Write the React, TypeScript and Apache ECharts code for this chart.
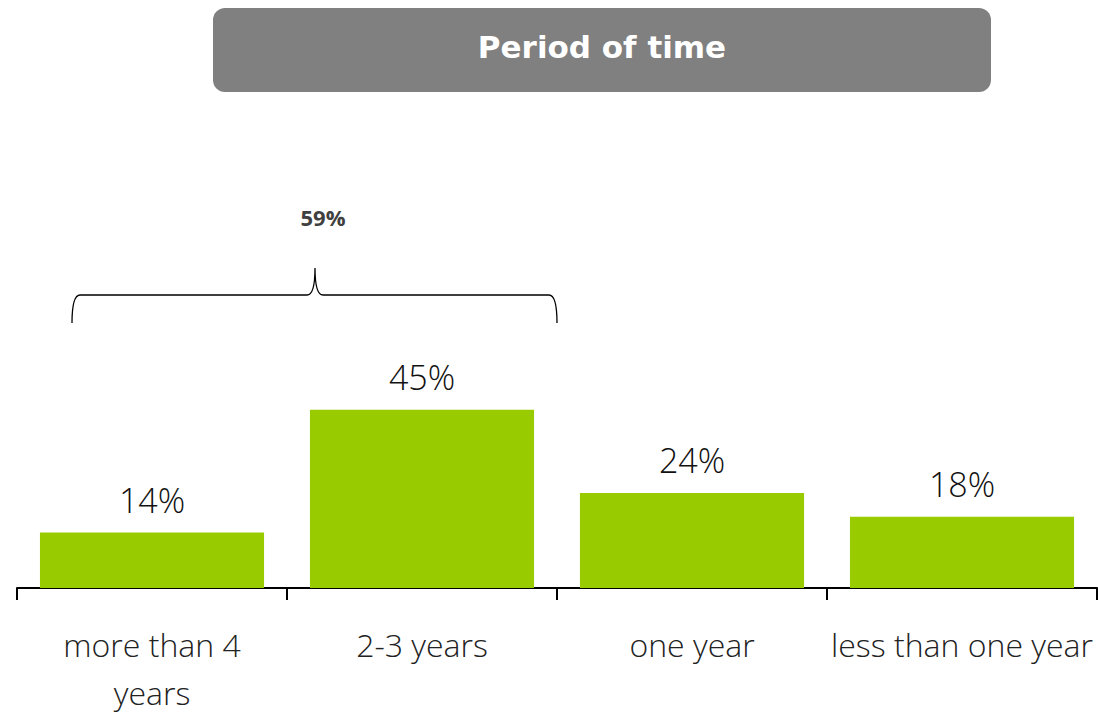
import React, { useEffect, useRef } from "react";
import * as echarts from "echarts";

const categories = ["more than 4\nyears", "2-3 years", "one year", "less than one year"];
const values = [14, 45, 24, 18];
const titleText = "Period of time";
const braceLabel = "59%";

echarts.graphic.registerShape(
  "brace",
  echarts.graphic.extendPath(
    "M72,323 Q72,295 80,295 L307,295 Q315,295 315,268 Q315,295 323,295 L549,295 Q557,295 557,323",
    {}
  )
);

export default function App() {
  const ref = useRef<HTMLDivElement>(null);
  useEffect(() => {
    if (!ref.current) return;
    const chart = echarts.init(ref.current, undefined, { renderer: "svg" });
    chart.setOption({
      animation: false,
      backgroundColor: "#ffffff",
      grid: { left: 17, right: 1, top: 192, bottom: 126, containLabel: false, outerBoundsMode: "none" },
      xAxis: {
        type: "category",
        data: categories,
        axisLine: { lineStyle: { color: "#000", width: 2 } },
        axisTick: { show: true, length: 12, lineStyle: { color: "#000", width: 2 } },
        axisLabel: {
          interval: 0,
          margin: 32,
          fontSize: 32,
          fontFamily: "Open Sans",
          fontWeight: 300,
          color: "#222",
          lineHeight: 48,
        },
      },
      yAxis: {
        type: "value",
        min: 0,
        max: 100,
        show: false,
        splitLine: { show: false },
      },
      series: [
        {
          type: "bar",
          data: values,
          barCategoryGap: "17%",
          itemStyle: { color: "#99cc00" },
          label: {
            show: true,
            position: "top",
            distance: 16,
            formatter: "{c}%",
            fontSize: 34,
            fontFamily: "Open Sans",
            fontWeight: 300,
            color: "#111",
          },
        },
      ],
      graphic: [
        {
          type: "rect",
          shape: { x: 213, y: 8, width: 778, height: 84, r: 12 },
          style: { fill: "#808080" },
        },
        {
          type: "text",
          x: 602,
          y: 47,
          style: {
            text: titleText,
            fill: "#ffffff",
            font: "bold 31px 'DejaVu Sans', Verdana, sans-serif",
            textAlign: "center",
            textVerticalAlign: "middle",
          },
        },
        {
          type: "text",
          x: 323,
          y: 217,
          style: {
            text: braceLabel,
            fill: "#404040",
            font: "bold 22px 'Open Sans', sans-serif",
            textAlign: "center",
            textVerticalAlign: "middle",
          },
        },
        {
          type: "brace",
          style: { fill: "none", stroke: "#000", lineWidth: 1.3 },
        },
      ],
    });
    return () => chart.dispose();
  }, []);
  return (
    <div
      ref={ref}
      style={{ position: "fixed", left: 0, top: 0, width: 1098, height: 714 }}
    />
  );
}
